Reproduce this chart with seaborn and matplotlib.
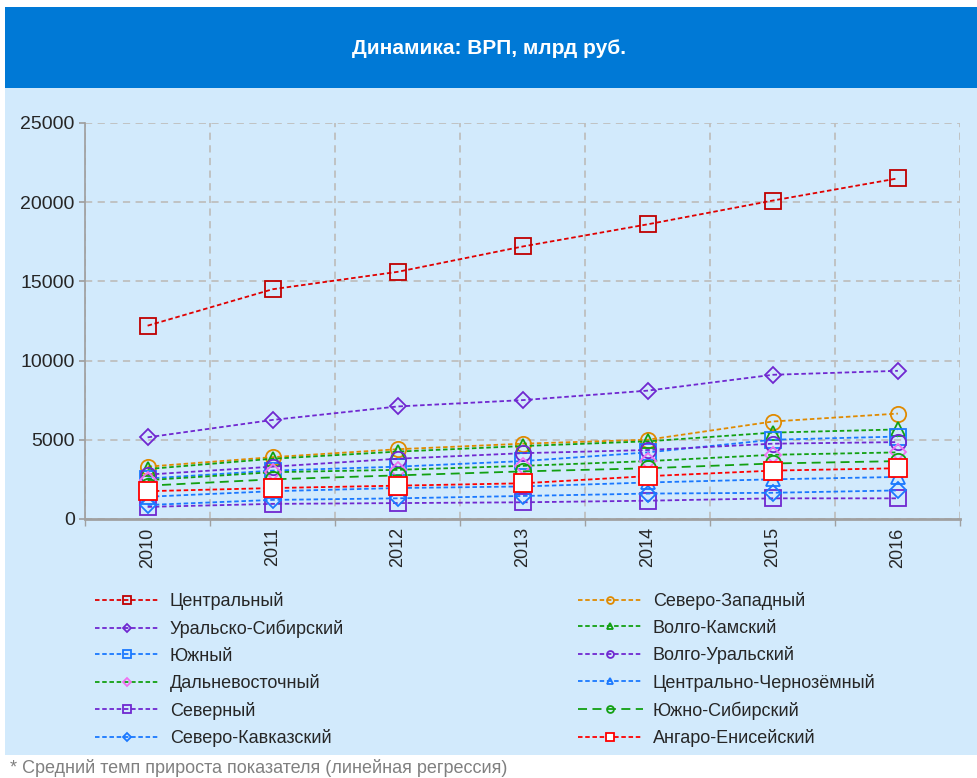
import pandas as pd
import seaborn as sns
import matplotlib.pyplot as plt
from matplotlib.patches import Rectangle

sns.set_theme(style='white')
plt.rcParams['font.family'] = ['Liberation Sans', 'DejaVu Sans']

anos = [2010, 2011, 2012, 2013, 2014, 2015, 2016]

# ВРП по макрорегионам, млрд руб.
centralny = [12200, 14500, 15600, 17200, 18600, 20100, 21500]
severo_zapadny = [3300, 3900, 4400, 4750, 5000, 6150, 6650]
uralo_sibirsky = [5150, 6250, 7100, 7500, 8100, 9100, 9350]
volgo_kamsky = [3150, 3800, 4250, 4600, 4900, 5450, 5650]
yuzhny = [2550, 3050, 3300, 3650, 4200, 5000, 5200]
volgo_uralsky = [2800, 3300, 3800, 4150, 4350, 4750, 4850]
dalnevostochny = [2450, 2950, 3100, 3350, 3650, 4050, 4200]
chernozemny = [1400, 1750, 1950, 2050, 2300, 2500, 2650]
severny = [760, 950, 1000, 1050, 1150, 1300, 1300]
yuzhno_sibirsky = [2100, 2500, 2750, 3000, 3200, 3500, 3650]
severo_kavkazsky = [880, 1200, 1300, 1450, 1600, 1650, 1800]
angaro_eniseisky = [1750, 1950, 2100, 2250, 2700, 3050, 3200]

nomes = ['Центральный', 'Северо-Западный', 'Уральско-Сибирский', 'Волго-Камский',
         'Южный', 'Волго-Уральский', 'Дальневосточный', 'Центрально-Чернозёмный',
         'Северный', 'Южно-Сибирский', 'Северо-Кавказский', 'Ангаро-Енисейский']
series = [centralny, severo_zapadny, uralo_sibirsky, volgo_kamsky, yuzhny, volgo_uralsky,
          dalnevostochny, chernozemny, severny, yuzhno_sibirsky, severo_kavkazsky,
          angaro_eniseisky]

vermelho = '#E00000'
laranja = '#E08A00'
roxo = '#7028D0'
verde = '#12A012'
azul = '#1A78FF'
rosa = '#F070F0'

# (cor da linha, marcador, cor do marcador, preenchimento, tracejado)
estilos = [
    (vermelho, 's', '#C00000', 'none', (0, (2.5, 1.5))),
    (laranja, 'o', laranja, 'none', (0, (2.5, 1.5))),
    (roxo, 'D', roxo, 'none', (0, (2.5, 1.5))),
    (verde, '^', verde, 'none', (0, (2.5, 1.5))),
    (azul, 's', azul, 'none', (0, (2.5, 1.5))),
    (roxo, 'o', roxo, 'none', (0, (2.5, 1.5))),
    (verde, 'D', rosa, 'none', (0, (2.5, 1.5))),
    (azul, '^', azul, 'none', (0, (2.5, 1.5))),
    (roxo, 's', roxo, 'none', (0, (2.5, 1.5))),
    (verde, 'o', verde, 'none', (0, (5, 3))),
    (azul, 'D', azul, 'none', (0, (2.5, 1.5))),
    ('#FF0000', 's', '#FF0000', 'white', (0, (2.5, 1.5))),
]
tamanhos = {'s': 11.5, 'o': 11, 'D': 8.4, '^': 10.5}

fundo = '#D2EAFC'
fig = plt.figure(figsize=(9.78, 7.78), dpi=100)
fig.patches.append(Rectangle((0.005, 0.03), 0.995, 0.857, transform=fig.transFigure,
                             facecolor=fundo, edgecolor='none', zorder=-5))
fig.patches.append(Rectangle((0.005, 0.887), 0.995, 0.104, transform=fig.transFigure,
                             facecolor='#0079D6', edgecolor='none', zorder=-5))
fig.text(0.5, 0.938, 'Динамика: ВРП, млрд руб.', color='white', fontsize=15,
         fontweight='bold', ha='center', va='center')

ax = fig.add_axes([0.087, 0.333, 0.895, 0.509])
ax.set_facecolor('none')

handles = []
for nome, vals, (cor, mk, mcor, mfc, ls) in zip(nomes, series, estilos):
    ms = 12.5 if mfc == 'white' else tamanhos[mk]
    sns.lineplot(x=anos, y=vals, ax=ax, color=cor, linestyle=ls, linewidth=1.3,
                 marker=mk, markersize=ms, markerfacecolor=mfc, markeredgecolor=mcor,
                 markeredgewidth=1.3, label=nome, legend=False)
    handles.append(ax.lines[-1])

ax.set_xlim(2009.5, 2016.5)
ax.set_ylim(0, 25000)
ax.set_xticks(anos)
ax.set_xticklabels([str(a) for a in anos], rotation=90, fontsize=13)
ax.set_xticks([a + 0.5 for a in [2009] + anos], minor=True)
ax.set_yticks(range(0, 25001, 5000))
ax.tick_params(axis='y', labelsize=14, length=4, color='#A0A0A0', left=True)
ax.tick_params(axis='x', which='major', length=0, pad=6)
ax.tick_params(axis='x', which='minor', length=5, color='#A0A0A0', bottom=True)
ax.grid(False)
ax.grid(axis='y', which='major', color='#BFBFBF', linestyle=(0, (4, 3)), linewidth=1.3)
ax.grid(axis='x', which='minor', color='#BFBFBF', linestyle=(0, (4, 3)), linewidth=1.3)
ax.set_axisbelow(True)
for lado in ['top', 'right']:
    ax.spines[lado].set_visible(False)
ax.spines['left'].set_color('#A0A0A0')
ax.spines['bottom'].set_color('#A0A0A0')
ax.spines['bottom'].set_linewidth(2)
ax.set_xlabel('')
ax.set_ylabel('')

leg_kw = dict(loc='upper left', frameon=False, fontsize=13, handlelength=3.6,
              handletextpad=0.55, labelspacing=0.53, markerscale=0.45, numpoints=1,
              borderaxespad=0, borderpad=0)
leg1 = fig.legend(handles[0::2], nomes[0::2], bbox_to_anchor=(0.097, 0.239), **leg_kw)
leg2 = fig.legend(handles[1::2], nomes[1::2], bbox_to_anchor=(0.591, 0.239), **leg_kw)

fig.text(0.01, 0.001, '* Средний темп прироста показателя (линейная регрессия)',
         color='#808080', fontsize=13, ha='left', va='bottom')

fig.savefig('out.png', dpi=100)
